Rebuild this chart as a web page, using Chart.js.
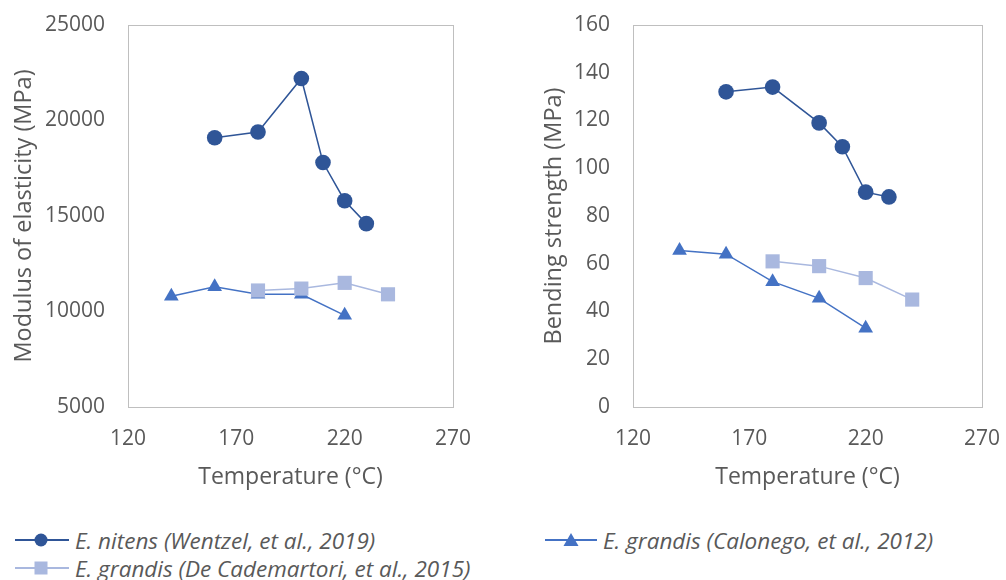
<!DOCTYPE html>
<html>
<head>
<meta charset="utf-8">
<script src="https://cdn.jsdelivr.net/npm/chart.js@4/dist/chart.umd.min.js"></script>
<style>
  html, body { margin: 0; padding: 0; background: #ffffff; }
  body { width: 1006px; height: 580px; position: relative; overflow: hidden; font-family: "Open Sans", sans-serif; }
  canvas { position: absolute; top: 0; }
  #c1 { left: 0; }
  #c2 { left: 506px; }
  .leg { position: absolute; display: flex; align-items: center; height: 26px; color: #595959; font-style: italic; font-size: 22.5px; white-space: nowrap; }
  .leg svg { margin-right: 6px; }
</style>
</head>
<body>
<canvas id="c1" width="500" height="500"></canvas>
<canvas id="c2" width="500" height="500"></canvas>

<div class="leg" style="left:15px; top:527px;">
  <svg width="54" height="20"><line x1="0" y1="10" x2="54" y2="10" stroke="#2F5597" stroke-width="2"/><circle cx="26" cy="10" r="6.5" fill="#2F5597"/></svg>
  <span>E. nitens (Wentzel, et al., 2019)</span>
</div>
<div class="leg" style="left:545px; top:527px;">
  <svg width="52" height="20"><line x1="0" y1="10" x2="52" y2="10" stroke="#4472C4" stroke-width="2"/><polygon points="26,3 33.5,16 18.5,16" fill="#4472C4"/></svg>
  <span>E. grandis (Calonego, et al., 2012)</span>
</div>
<div class="leg" style="left:15px; top:555px;">
  <svg width="54" height="20"><line x1="0" y1="10" x2="54" y2="10" stroke="#A9B8DF" stroke-width="2"/><rect x="19.5" y="3.5" width="13" height="13" fill="#A9B8DF"/></svg>
  <span>E. grandis (De Cademartori, et al., 2015)</span>
</div>

<script>
// ---- data ----
const tempNitens = [160, 180, 200, 210, 220, 230];
const tempCalonego = [140, 160, 180, 200, 220];
const tempCademartori = [180, 200, 220, 240];

const moeNitens = [19100, 19400, 22200, 17800, 15800, 14600];
const moeCalonego = [10800, 11300, 10900, 10900, 9800];
const moeCademartori = [11100, 11200, 11500, 10900];

const morNitens = [132, 134, 119, 109, 90, 88];
const morCalonego = [65.5, 64, 52.5, 45.5, 33];
const morCademartori = [61, 59, 54, 45];

const xTicks = [120, 170, 220, 270];
const moeTicks = [5000, 10000, 15000, 20000, 25000];
const morTicks = [0, 20, 40, 60, 80, 100, 120, 140, 160];

const seriesNames = [
  'E. nitens (Wentzel, et al., 2019)',
  'E. grandis (Calonego, et al., 2012)',
  'E. grandis (De Cademartori, et al., 2015)'
];

// ---- helpers ----
Chart.defaults.font.family = '"Open Sans", sans-serif';
const GREY = '#595959';

function pts(xs, ys) { return xs.map((x, i) => ({ x: x, y: ys[i] })); }

const plotBorder = {
  id: 'plotBorder',
  beforeDatasetsDraw(chart) {
    const a = chart.chartArea, ctx = chart.ctx;
    ctx.save();
    ctx.strokeStyle = '#BFBFBF';
    ctx.lineWidth = 1;
    ctx.strokeRect(Math.round(a.left) + 0.5, Math.round(a.top) + 0.5,
                   Math.round(a.right - a.left), Math.round(a.bottom - a.top));
    ctx.restore();
  }
};

function makeChart(id, ysN, ysC, ysD, yTicks, yTitle, yWidth, rightPad, yTitlePad) {
  const datasets = [
    { label: seriesNames[0], data: pts(tempNitens, ysN), showLine: true,
      borderColor: '#2F5597', backgroundColor: '#2F5597', borderWidth: 1.5,
      pointStyle: 'circle', pointRadius: 7.8, pointBorderWidth: 0, order: 2 },
    { label: seriesNames[1], data: pts(tempCalonego, ysC), showLine: true,
      borderColor: '#4472C4', backgroundColor: '#4472C4', borderWidth: 1.5,
      pointStyle: 'triangle', pointRadius: 8.5, pointBorderWidth: 0, order: 1 },
    { label: seriesNames[2], data: pts(tempCademartori, ysD), showLine: true,
      borderColor: '#A9B8DF', backgroundColor: '#A9B8DF', borderWidth: 1.5,
      pointStyle: 'rect', pointRadius: 10, pointBorderWidth: 0, order: 0 }
  ];
  return new Chart(document.getElementById(id), {
    type: 'scatter',
    data: { datasets: datasets },
    plugins: [plotBorder],
    options: {
      responsive: false,
      animation: false,
      layout: { padding: { top: 25, right: rightPad, left: 0, bottom: 0 } },
      plugins: { legend: { display: false }, tooltip: { enabled: false } },
      scales: {
        x: {
          type: 'linear',
          min: xTicks[0], max: xTicks[xTicks.length - 1],
          afterBuildTicks(s) { s.ticks = xTicks.map(v => ({ value: v })); },
          ticks: { color: GREY, font: { size: 21 }, padding: 19, maxRotation: 0, autoSkip: false,
                   callback: v => String(v) },
          grid: { display: false, drawTicks: false },
          border: { display: false },
          title: { display: true, text: 'Temperature (°C)', color: GREY,
                   font: { size: 23 }, padding: { top: 0, bottom: 9 } },
          afterFit(s) { s.height = 93; s.paddingLeft = 0; s.paddingRight = 0; }
        },
        y: {
          type: 'linear',
          min: yTicks[0], max: yTicks[yTicks.length - 1],
          afterBuildTicks(s) { s.ticks = yTicks.map(v => ({ value: v })); },
          ticks: { color: GREY, font: { size: 21 }, padding: 23, autoSkip: false,
                   callback: v => String(v) },
          grid: { display: false, drawTicks: false },
          border: { display: false },
          title: { display: true, text: yTitle, color: GREY,
                   font: { size: 23.5 }, padding: { top: yTitlePad, bottom: 0 } },
          afterFit(s) { s.width = yWidth; s.paddingTop = 0; s.paddingBottom = 0; }
        }
      }
    }
  });
}

makeChart('c1', moeNitens, moeCalonego, moeCademartori, moeTicks,
          'Modulus of elasticity (MPa)', 128, 47, 10);
makeChart('c2', morNitens, morCalonego, morCademartori, morTicks,
          'Bending strength (MPa)', 127, 24, 34);
</script>
</body>
</html>
